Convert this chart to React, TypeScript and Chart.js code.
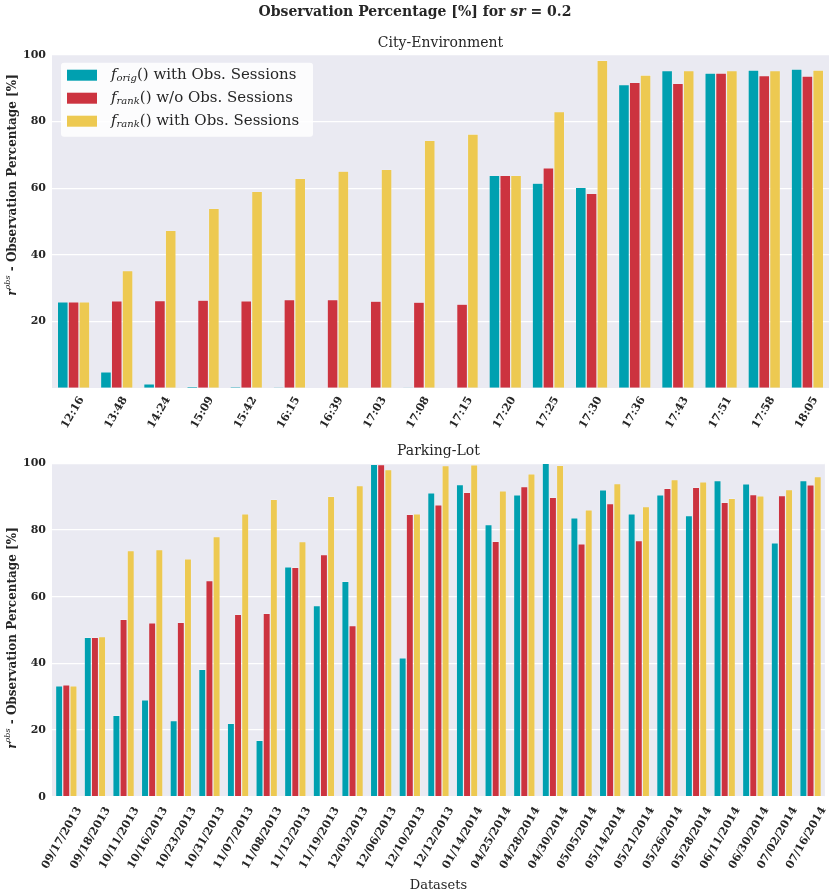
import React, { useEffect, useRef } from "react";
import { Chart, registerables } from "chart.js";

Chart.register(...registerables);

// City-Environment (top)
const cityLabels = ["12:16", "13:48", "14:24", "15:09", "15:42", "16:15", "16:39", "17:03", "17:08", "17:15", "17:20", "17:25", "17:30", "17:36", "17:43", "17:51", "17:58", "18:05"];
const cityOrig = [25.9, 4.9, 1.3, 0.6, 0.4, 0.3, 0.1, 0.1, 0.05, 0.1, 63.8, 61.5, 60.2, 91.0, 95.2, 94.5, 95.4, 95.7];
const cityRank = [25.9, 26.2, 26.3, 26.4, 26.2, 26.6, 26.6, 26.1, 25.8, 25.2, 63.8, 66.1, 58.4, 91.7, 91.4, 94.5, 93.7, 93.6];
const cityRankObs = [25.9, 35.3, 47.3, 53.9, 59.0, 62.9, 65.1, 65.6, 74.3, 76.2, 63.8, 82.9, 98.3, 93.9, 95.2, 95.2, 95.2, 95.4];

// Parking-Lot (bottom)
const parkLabels = ["09/17/2013", "09/18/2013", "10/11/2013", "10/16/2013", "10/23/2013", "10/31/2013", "11/07/2013", "11/08/2013", "11/12/2013", "11/19/2013", "12/03/2013", "12/06/2013", "12/10/2013", "12/12/2013", "01/14/2014", "04/25/2014", "04/28/2014", "04/30/2014", "05/05/2014", "05/14/2014", "05/21/2014", "05/26/2014", "05/28/2014", "06/11/2014", "06/30/2014", "07/02/2014", "07/16/2014"];
const parkOrig = [33.2, 47.8, 24.4, 29.0, 22.8, 38.2, 22.0, 16.9, 68.9, 57.3, 64.6, 99.7, 41.6, 91.1, 93.6, 81.6, 90.5, 100, 83.6, 92.0, 84.8, 90.5, 84.3, 94.8, 93.8, 76.1, 94.8];
const parkRank = [33.5, 47.8, 53.2, 52.1, 52.3, 64.8, 54.7, 55.0, 68.8, 72.6, 51.3, 99.6, 84.7, 87.5, 91.3, 76.6, 93.0, 89.8, 75.8, 87.9, 76.8, 92.5, 92.8, 88.3, 90.6, 90.3, 93.5];
const parkRankObs = [33.2, 48.0, 73.8, 74.1, 71.3, 78.0, 84.8, 89.2, 76.5, 90.1, 93.3, 98.1, 84.8, 99.3, 99.5, 91.7, 96.8, 99.4, 86.0, 93.9, 87.0, 95.1, 94.4, 89.5, 90.2, 92.1, 96.0];

const yTicks = [0, 20, 40, 60, 80, 100];

const seriesSubs = ["orig", "rank", "rank"];
const seriesTails = ["() with Obs. Sessions", "() w/o Obs. Sessions", "() with Obs. Sessions"];
const seriesColors = ["#00A0B0", "#CC333F", "#EDC951"];

const SERIF = '"DejaVu Serif", serif';
const INK = "#262626";

type Run = { text: string; font: string; dy?: number };

function runsWidth(ctx: CanvasRenderingContext2D, runs: Run[]) {
    let w = 0;
    for (const r of runs) {
        ctx.font = r.font;
        w += ctx.measureText(r.text).width;
    }
    return w;
}

function drawRuns(ctx: CanvasRenderingContext2D, runs: Run[], x: number, y: number) {
    let cx = x;
    for (const r of runs) {
        ctx.font = r.font;
        ctx.fillText(r.text, cx, y + (r.dy || 0));
        cx += ctx.measureText(r.text).width;
    }
}

interface PanelOpts {
    mainTitle: boolean;
    legend: boolean;
    title: string;
    titleY: number;
    yTitleY: number;
}

const makePlugin = (p: PanelOpts) => ({
    id: "panelDecor",
    beforeDraw(chart: any) {
        const { ctx, chartArea: a } = chart;
        ctx.save();
        ctx.fillStyle = "#EAEAF2";
        ctx.fillRect(a.left, a.top, a.right - a.left, a.bottom - a.top);
        ctx.restore();
    },
    afterDraw(chart: any) {
        const { ctx, chartArea: a } = chart;
        ctx.save();
        ctx.fillStyle = INK;
        ctx.textBaseline = "middle";

        if (p.mainTitle) {
            const runs: Run[] = [
                { text: "Observation Percentage [%] for ", font: `bold 14px ${SERIF}` },
                { text: "sr", font: `italic bold 14px ${SERIF}` },
                { text: " = 0.2", font: `bold 14px ${SERIF}` },
            ];
            const w = runsWidth(ctx, runs);
            drawRuns(ctx, runs, chart.width / 2 - w / 2, 12);
        }

        // subplot title, centred on the plot area
        ctx.font = `14px ${SERIF}`;
        ctx.textAlign = "center";
        ctx.fillText(p.title, (a.left + a.right) / 2, p.titleY);
        ctx.textAlign = "left";

        // y axis title, rotated
        const yRuns: Run[] = [
            { text: "r", font: `italic bold 12px ${SERIF}` },
            { text: "obs", font: `italic 8px ${SERIF}`, dy: -5 },
            { text: " - Observation Percentage [%]", font: `bold 12px ${SERIF}` },
        ];
        const yw = runsWidth(ctx, yRuns);
        ctx.save();
        ctx.translate(13, p.yTitleY);
        ctx.rotate(-Math.PI / 2);
        drawRuns(ctx, yRuns, -yw / 2, 0);
        ctx.restore();

        if (p.legend) {
            const bx = a.left + 9;
            const by = a.top + 8;
            ctx.fillStyle = "rgba(255,255,255,0.85)";
            ctx.beginPath();
            ctx.roundRect(bx, by, 252, 74, 3);
            ctx.fill();
            chart.data.datasets.forEach((ds: any, i: number) => {
                const cy = by + 12.5 + i * 23;
                ctx.fillStyle = ds.backgroundColor;
                ctx.fillRect(bx + 6, cy - 5.5, 30, 11);
                ctx.fillStyle = INK;
                drawRuns(ctx, [
                    { text: "f", font: `italic 15px ${SERIF}` },
                    { text: seriesSubs[i], font: `italic 10px ${SERIF}`, dy: 3.5 },
                    { text: seriesTails[i], font: `15px ${SERIF}` },
                ], bx + 50, cy);
            });
        }
        ctx.restore();
    },
});

interface PanelProps {
    labels: string[];
    series: number[][];
    height: number;
    topPad: number;
    xAxisHeight: number;
    labelOffset: number;
    labelPad: number;
    showZero: boolean;
    xTitle?: string;
    decor: PanelOpts;
}

const Panel: React.FC<PanelProps> = (props) => {
    const chartRef = useRef<HTMLCanvasElement | null>(null);
    const chartInstance = useRef<Chart | null>(null);

    useEffect(() => {
        if (chartInstance.current) {
            chartInstance.current.destroy();
        }
        const ctx = chartRef.current?.getContext("2d");
        if (!ctx) return;

        chartInstance.current = new Chart(ctx, {
            type: "bar",
            data: {
                labels: props.labels,
                datasets: props.series.map((d, i) => ({
                    label: seriesSubs[i] + seriesTails[i],
                    data: d,
                    backgroundColor: seriesColors[i],
                    borderColor: "rgba(255,255,255,0.35)",
                    borderWidth: 0.6,
                    categoryPercentage: 0.75,
                    barPercentage: 1.0,
                })),
            },
            options: {
                animation: false,
                responsive: true,
                maintainAspectRatio: false,
                layout: { padding: { left: 0, right: 1, top: props.topPad, bottom: 0 } },
                plugins: {
                    legend: { display: false },
                    tooltip: { enabled: false },
                    title: { display: false },
                },
                scales: {
                    x: {
                        grid: { display: false, drawTicks: false },
                        border: { display: false },
                        ticks: {
                            color: INK,
                            font: { family: SERIF, size: 11, weight: "bold" },
                            minRotation: 60,
                            maxRotation: 60,
                            autoSkip: false,
                            padding: props.labelPad,
                            labelOffset: props.labelOffset,
                        },
                        title: props.xTitle
                            ? {
                                  display: true,
                                  text: props.xTitle,
                                  color: INK,
                                  font: { family: SERIF, size: 13, weight: "normal" },
                                  padding: { top: 0, bottom: 2 },
                              }
                            : { display: false },
                        afterFit: (scale: any) => {
                            scale.height = props.xAxisHeight;
                        },
                    },
                    y: {
                        min: 0,
                        max: 100,
                        grid: { color: "#FFFFFF", lineWidth: 1.2, drawTicks: false },
                        border: { display: false },
                        ticks: {
                            stepSize: 20,
                            padding: 6,
                            color: INK,
                            font: { family: SERIF, size: 11, weight: "bold" },
                            callback: (v: any) =>
                                yTicks.includes(Number(v)) && (props.showZero || Number(v) !== 0) ? String(v) : "",
                        },
                        afterFit: (scale: any) => {
                            scale.width = 52;
                        },
                    },
                },
            },
            plugins: [makePlugin(props.decor)],
        });

        return () => {
            if (chartInstance.current) {
                chartInstance.current.destroy();
                chartInstance.current = null;
            }
        };
    }, [props.labels, props.series]);

    return (
        <div style={{ position: "relative", width: 830, height: props.height }}>
            <canvas ref={chartRef}></canvas>
        </div>
    );
};

const citySeries = [cityOrig, cityRank, cityRankObs];
const parkSeries = [parkOrig, parkRank, parkRankObs];

export default function App() {
    useEffect(() => {
        document.body.style.margin = "0";
    }, []);

    return (
        <div style={{ width: 830, height: 895, background: "#fff" }}>
            <Panel
                labels={cityLabels}
                series={citySeries}
                height={440}
                topPad={54.7}
                xAxisHeight={51.7}
                labelOffset={8}
                labelPad={6}
                showZero={false}
                decor={{ mainTitle: true, legend: true, title: "City-Environment", titleY: 43, yTitleY: 185 }}
            />
            <Panel
                labels={parkLabels}
                series={parkSeries}
                height={455}
                topPad={23.3}
                xAxisHeight={98.3}
                labelOffset={13}
                labelPad={8}
                showZero={true}
                xTitle="Datasets"
                decor={{ mainTitle: false, legend: false, title: "Parking-Lot", titleY: 11, yTitleY: 198 }}
            />
        </div>
    );
}
